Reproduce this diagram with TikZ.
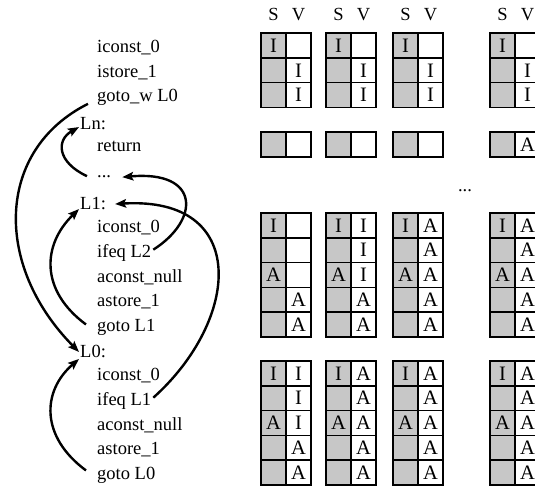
\documentclass[tikz,border=0pt]{standalone}
\usepackage{fontspec}
\setmainfont{Liberation Serif}
\usetikzlibrary{arrows.meta,calc}
\newcommand\cpair[5]{%
  \node[scell] (#1s) at (#2,#3) {#4};
  \node[vcell] (#1v) at (#2+25,#3) {#5};}
\tikzset{
  txtfont/.style={font=\fontsize{18.5}{22}\selectfont},
  code/.style={txtfont, anchor=base west, inner sep=2pt},
  hdr/.style={txtfont, anchor=base, inner sep=0pt},
  cellbase/.style={font=\fontsize{20.5}{24}\selectfont, draw, line width=1.5pt, minimum width=25pt,
    minimum height=24.8pt, inner sep=0pt},
  scell/.style={cellbase, fill=black!22},
  vcell/.style={cellbase, fill=white},
  jump/.style={line width=2.4pt, -{Stealth[length=11pt,width=8.5pt,inset=2pt]}},
}
\begin{document}
\begin{tikzpicture}[x=1pt,y=-1pt]
\useasboundingbox (0,0) rectangle (535,486);

% ---- code listing ----
\node[code] (c1)  at (95,52.5)  {iconst\_0};
\node[code] (c2)  at (95,77.2)  {istore\_1};
\node[code] (c3)  at (95,102)   {goto\_w L0};
\node[code] (lLn) at (78,130)   {Ln:};
\node[code] (c4)  at (95,151.5) {return};
\node[code] (c5)  at (95,178)   {...};
\node[code] (lL1) at (78,210)   {L1:};
\node[code] (c6)  at (95,232.4) {iconst\_0};
\node[code] (c7)  at (95,257.2) {ifeq L2};
\node[code] (c8)  at (95,282)   {aconst\_null};
\node[code] (c9)  at (95,306.8) {astore\_1};
\node[code] (c10) at (95,331.6) {goto L1};
\node[code] (lL0) at (78,357)   {L0:};
\node[code] (c11) at (95,380.4) {iconst\_0};
\node[code] (c12) at (95,405.2) {ifeq L1};
\node[code] (c13) at (95,430)   {aconst\_null};
\node[code] (c14) at (95,454.8) {astore\_1};
\node[code] (c15) at (95,479.6) {goto L0};

% ---- jumps ----
\draw[jump] ($(c3.west)+(-7,6)$) .. controls +(-92,46) and +(-86,-87) .. ($(lL0.west)+(1,1)$);
\draw[jump] ($(c5.west)+(-8,-1)$) .. controls +(-30,-14) and +(-23,13) .. ($(lLn.west)+(1,3)$);
\draw[jump] ($(c7.east)+(0,-3)$) .. controls +(47,-30) and +(78,-7) .. ($(c5.east)+(9,0)$);
\draw[jump] ($(c12.east)+(0,-3)$) .. controls +(87,-78) and +(135,-8) .. ($(lL1.east)+(7,0)$);
\draw[jump] ($(c10.west)+(-9,-3)$) .. controls +(-46,-34) and +(-37,36) .. ($(lL1.west)+(1,5)$);
\draw[jump] ($(c15.west)+(-9,-5)$) .. controls +(-46,-34) and +(-37,32) .. ($(lL0.west)+(1,8)$);

% ---- headers ----
\foreach \x/\n in {273.5/1,338.5/2,405.5/3,502.5/4}{
  \node[hdr] (hs\n) at (\x,21) {S};
  \node[hdr] (hv\n) at (\x+25,21) {V};
}
\node[hdr] (gdots) at (465,192) {...};

% ---- top group ----
\foreach \x/\n in {273.5/1,338.5/2,405.5/3,502.5/4}{
  \cpair{t1\n}{\x}{45.5}{I}{}
  \cpair{t2\n}{\x}{70.3}{}{I}
  \cpair{t3\n}{\x}{95.1}{}{I}
}
% ---- Ln group ----
\cpair{n1}{273.5}{144.5}{}{}
\cpair{n2}{338.5}{144.5}{}{}
\cpair{n3}{405.5}{144.5}{}{}
\cpair{n4}{502.5}{144.5}{}{A}

% ---- middle group ----
\cpair{m11}{273.5}{225.4}{I}{}
\cpair{m21}{273.5}{250.2}{}{}
\cpair{m31}{273.5}{275.0}{A}{}
\cpair{m41}{273.5}{299.8}{}{A}
\cpair{m51}{273.5}{324.6}{}{A}
\cpair{m12}{338.5}{225.4}{I}{I}
\cpair{m22}{338.5}{250.2}{}{I}
\cpair{m32}{338.5}{275.0}{A}{I}
\cpair{m42}{338.5}{299.8}{}{A}
\cpair{m52}{338.5}{324.6}{}{A}
\foreach \x/\n in {405.5/3,502.5/4}{
  \cpair{m1\n}{\x}{225.4}{I}{A}
  \cpair{m2\n}{\x}{250.2}{}{A}
  \cpair{m3\n}{\x}{275.0}{A}{A}
  \cpair{m4\n}{\x}{299.8}{}{A}
  \cpair{m5\n}{\x}{324.6}{}{A}
}

% ---- bottom group ----
\cpair{b11}{273.5}{373.4}{I}{I}
\cpair{b21}{273.5}{398.2}{}{I}
\cpair{b31}{273.5}{423.0}{A}{I}
\cpair{b41}{273.5}{447.8}{}{A}
\cpair{b51}{273.5}{472.6}{}{A}
\foreach \x/\n in {338.5/2,405.5/3,502.5/4}{
  \cpair{b1\n}{\x}{373.4}{I}{A}
  \cpair{b2\n}{\x}{398.2}{}{A}
  \cpair{b3\n}{\x}{423.0}{A}{A}
  \cpair{b4\n}{\x}{447.8}{}{A}
  \cpair{b5\n}{\x}{472.6}{}{A}
}
\end{tikzpicture}
\end{document}
